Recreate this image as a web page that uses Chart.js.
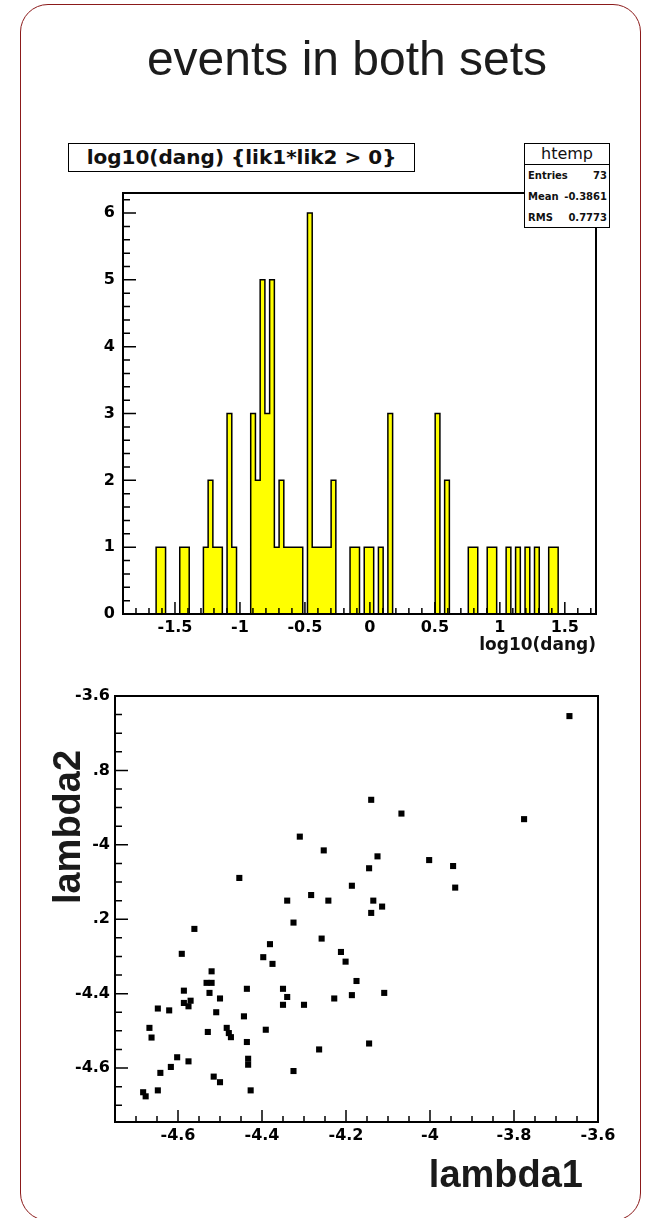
<!DOCTYPE html>
<html>
<head>
<meta charset="utf-8">
<title>events in both sets</title>
<script src="https://cdn.jsdelivr.net/npm/chart.js@4.4.0/dist/chart.umd.min.js"></script>
<style>
    html, body { margin: 0; padding: 0; background: #fff; }
    #page { position: relative; width: 652px; height: 1218px; overflow: hidden; }
    canvas { position: absolute; left: 0; }
    #histCanvas { top: 0; }
    #scatterCanvas { top: 660px; }
    #frame {
        position: absolute; left: 20px; top: 4px; width: 621px; height: 1217px;
        box-sizing: border-box; border: 1.5px solid #8b1a1a; border-radius: 28px;
    }
    .txt { position: absolute; color: #111; white-space: nowrap; }
    #pageTitle {
        left: 47px; top: 35px; width: 600px; text-align: center;
        font: 48px/48px "Liberation Sans", Arial, sans-serif; color: #1c1c1c;
    }
    #histTitle {
        left: 68px; top: 143px; width: 347px; height: 29px; box-sizing: border-box;
        border: 1.5px solid #000; background: #fff; text-align: center;
        font: bold 20px/26px "DejaVu Sans", sans-serif;
    }
    #stats {
        left: 524px; top: 143px; width: 86px; height: 85px; box-sizing: border-box;
        border: 1.5px solid #000; background: #fff;
    }
    #stats .head {
        height: 20px; border-bottom: 1.5px solid #000; text-align: center;
        font: 16px/20px "DejaVu Sans", sans-serif;
    }
    #stats .row {
        display: flex; justify-content: space-between; height: 21px; padding: 0 2px 0 3px;
        font: bold 10px/21px "DejaVu Sans", sans-serif;
    }
    #xTitle2 {
        right: 69px; top: 1155px;
        font: bold 38px/38px "Liberation Sans", Arial, sans-serif; color: #1a1a1a;
    }
    #yTitle2 {
        left: -33px; top: 808px; width: 200px; height: 38px; text-align: center;
        font: bold 38px/38px "Liberation Sans", Arial, sans-serif; color: #1a1a1a;
        transform: rotate(-90deg);
    }
</style>
</head>
<body>
<div id="page">
    <canvas id="histCanvas" width="652" height="660"></canvas>
    <canvas id="scatterCanvas" width="652" height="558"></canvas>

    <div id="pageTitle" class="txt">events in both sets</div>
    <div id="histTitle" class="txt">log10(dang) {lik1*lik2 &gt; 0}</div>
    <div id="stats" class="txt">
        <div class="head">htemp</div>
        <div class="row"><span>Entries</span><span>73</span></div>
        <div class="row"><span>Mean</span><span>-0.3861</span></div>
        <div class="row"><span>RMS</span><span>0.7773</span></div>
    </div>
    <div id="xTitle2" class="txt">lambda1</div>
    <div id="yTitle2" class="txt">lambda2</div>
    <div id="frame"></div>
</div>

<script>
// ---- histogram htemp: log10(dang), 100 bins ----
const histXMin = -1.9;
const histXMax = 1.74;
const histYMax = 6.3;
const histCounts = [
    0, 0, 0, 0, 0, 0, 0, 1, 1, 0,
    0, 0, 1, 1, 0, 0, 0, 1, 2, 1,
    1, 0, 3, 1, 0, 0, 0, 3, 2, 5,
    3, 5, 1, 2, 1, 1, 1, 1, 0, 6,
    1, 1, 1, 1, 2, 0, 0, 0, 1, 1,
    0, 1, 1, 0, 1, 0, 3, 0, 0, 0,
    0, 0, 0, 0, 0, 0, 3, 0, 2, 0,
    0, 0, 0, 1, 1, 0, 0, 1, 1, 0,
    0, 1, 0, 1, 0, 1, 0, 1, 0, 0,
    1, 1, 0, 0, 0, 0, 0, 0, 0, 0
];
const histXTicks = [-1.5, -1, -0.5, 0, 0.5, 1, 1.5];
const histYTicks = [0, 1, 2, 3, 4, 5, 6];

// ---- scatter: lambda2 vs lambda1 ----
const lambda1 = [
    -3.668, -4.140, -4.068, -3.776, -4.310, -4.253, -4.125, -4.145, -4.002, -3.945,
    -3.940, -4.186, -4.283, -4.242, -4.135, -4.114, -4.140, -4.454, -4.340, -4.258,
    -4.212, -4.201, -4.175, -4.109, -4.186, -4.228, -4.300, -4.145, -4.264, -4.325,
    -4.561, -4.591, -4.381, -4.397, -4.375, -4.520, -4.532, -4.520, -4.525, -4.500,
    -4.586, -4.586, -4.575, -4.570, -4.648, -4.621, -4.509, -4.436, -4.443, -4.350,
    -4.340, -4.350, -4.668, -4.663, -4.529, -4.484, -4.479, -4.474, -4.391, -4.436,
    -4.433, -4.433, -4.602, -4.575, -4.617, -4.642, -4.325, -4.515, -4.500, -4.648,
    -4.427, -4.683, -4.677
];
const lambda2 = [
    -3.654, -3.879, -3.916, -3.931, -3.978, -4.015, -4.031, -4.063, -4.041, -4.057,
    -4.115, -4.110, -4.135, -4.150, -4.150, -4.166, -4.183, -4.089, -4.150, -4.252,
    -4.288, -4.314, -4.366, -4.398, -4.404, -4.413, -4.430, -4.534, -4.550, -4.209,
    -4.226, -4.293, -4.267, -4.302, -4.320, -4.340, -4.371, -4.371, -4.398, -4.413,
    -4.392, -4.425, -4.434, -4.419, -4.440, -4.445, -4.450, -4.387, -4.461, -4.387,
    -4.409, -4.430, -4.492, -4.518, -4.503, -4.492, -4.506, -4.517, -4.497, -4.530,
    -4.575, -4.591, -4.571, -4.582, -4.597, -4.613, -4.608, -4.623, -4.638, -4.660,
    -4.660, -4.665, -4.676
];
const scatterMin = -4.75;
const scatterMax = -3.6;
const scatterYMin = -4.745;
const scatterTicks = [-4.6, -4.4, -4.2, -4, -3.8, -3.6];
const scatterXLabels = ['-4.6', '-4.4', '-4.2', '-4', '-3.8', '-3.6'];
const scatterYLabels = ['-4.6', '-4.4', '.2', '-4', '.8', '-3.6'];

const TICK_FONT = { family: "'DejaVu Sans', sans-serif", weight: 'bold', size: 16 };

/**
 * Tick values between min and max with a fixed step
 */
function tickRange(min, max, step) {
    const out = [];
    const first = Math.ceil(min / step - 1e-9);
    for (let k = first; k * step <= max + 1e-9; k++) {
        out.push(+(k * step).toFixed(6));
    }
    return out;
}

/**
 * ROOT-like frame: full box, ticks pointing inside on bottom and left
 */
function makeRootAxes(cfg) {
    return {
        id: 'rootAxes',
        afterDatasetsDraw(chart) {
            const { ctx, chartArea: a } = chart;
            const xs = chart.scales.x;
            const ys = chart.scales.y;
            ctx.save();
            ctx.strokeStyle = '#000';
            ctx.lineWidth = 1.5;
            ctx.beginPath();
            const xTick = (v, len) => {
                const p = xs.getPixelForValue(v);
                ctx.moveTo(p, a.bottom);
                ctx.lineTo(p, a.bottom - len);
            };
            const yTick = (v, len) => {
                const p = ys.getPixelForValue(v);
                ctx.moveTo(a.left, p);
                ctx.lineTo(a.left + len, p);
            };
            cfg.xMinor.forEach(v => xTick(v, 6));
            cfg.xMajor.forEach(v => xTick(v, 12));
            cfg.yMinor.forEach(v => yTick(v, 7));
            cfg.yMajor.forEach(v => yTick(v, 13));
            ctx.stroke();
            ctx.lineWidth = 2;
            ctx.strokeRect(a.left, a.top, a.right - a.left, a.bottom - a.top);
            ctx.restore();
        }
    };
}

/**
 * Linear axis with fixed box size and given major ticks / labels
 */
function rootScale({ min, max, ticks, labels, size, pad, horizontal, title }) {
    return {
        type: 'linear',
        min, max,
        grid: { display: false, drawTicks: false },
        border: { display: false },
        afterBuildTicks: s => { s.ticks = ticks.map(v => ({ value: v })); },
        afterFit: s => {
            if (horizontal) s.height = size;
            else s.width = size;
        },
        ticks: {
            autoSkip: false,
            maxRotation: 0,
            padding: pad,
            color: '#000',
            font: TICK_FONT,
            callback: (v, i) => labels ? labels[i] : String(v)
        },
        title: title || { display: false }
    };
}

// ---- histogram ----
const binWidth = (histXMax - histXMin) / histCounts.length;
const histPoints = histCounts.map((c, i) => ({ x: histXMin + i * binWidth, y: c }));
histPoints.push({ x: histXMax, y: histCounts[histCounts.length - 1] });

new Chart(document.getElementById('histCanvas'), {
    type: 'line',
    data: {
        datasets: [{
            data: histPoints,
            stepped: 'before',
            fill: 'origin',
            backgroundColor: '#ffff00',
            borderColor: '#000',
            borderWidth: 1.5,
            pointRadius: 0,
            tension: 0
        }]
    },
    options: {
        responsive: false,
        animation: false,
        events: [],
        layout: { padding: { left: 0, top: 193, right: 56, bottom: 0 } },
        plugins: { legend: { display: false }, tooltip: { enabled: false } },
        scales: {
            x: rootScale({
                min: histXMin, max: histXMax, ticks: histXTicks, size: 46, pad: 4, horizontal: true,
                title: {
                    display: true, text: 'log10(dang)', align: 'end', color: '#111',
                    font: { family: "'DejaVu Sans', sans-serif", weight: 'bold', size: 17 },
                    padding: { top: 0, bottom: 4 }
                }
            }),
            y: rootScale({ min: 0, max: histYMax, ticks: histYTicks, size: 123, pad: 8 })
        }
    },
    plugins: [makeRootAxes({
        xMajor: histXTicks,
        xMinor: tickRange(histXMin, histXMax, 0.1),
        yMajor: histYTicks,
        yMinor: tickRange(0, histYMax, 0.2)
    })]
});

// ---- scatter ----
new Chart(document.getElementById('scatterCanvas'), {
    type: 'scatter',
    data: {
        datasets: [{
            data: lambda1.map((x, i) => ({ x, y: lambda2[i] })),
            pointStyle: 'rect',
            pointRadius: 4.3,
            backgroundColor: '#000',
            borderWidth: 0
        }]
    },
    options: {
        responsive: false,
        animation: false,
        events: [],
        layout: { padding: { left: 0, top: 36, right: 54, bottom: 0 } },
        plugins: { legend: { display: false }, tooltip: { enabled: false } },
        scales: {
            x: rootScale({
                min: scatterMin, max: scatterMax, ticks: scatterTicks, labels: scatterXLabels,
                size: 96, pad: 4, horizontal: true
            }),
            y: rootScale({
                min: scatterYMin, max: scatterMax, ticks: scatterTicks, labels: scatterYLabels,
                size: 115, pad: 5
            })
        }
    },
    plugins: [makeRootAxes({
        xMajor: scatterTicks,
        xMinor: tickRange(scatterMin, scatterMax, 0.05),
        yMajor: scatterTicks,
        yMinor: tickRange(scatterYMin, scatterMax, 0.05)
    })]
});
</script>
</body>
</html>
